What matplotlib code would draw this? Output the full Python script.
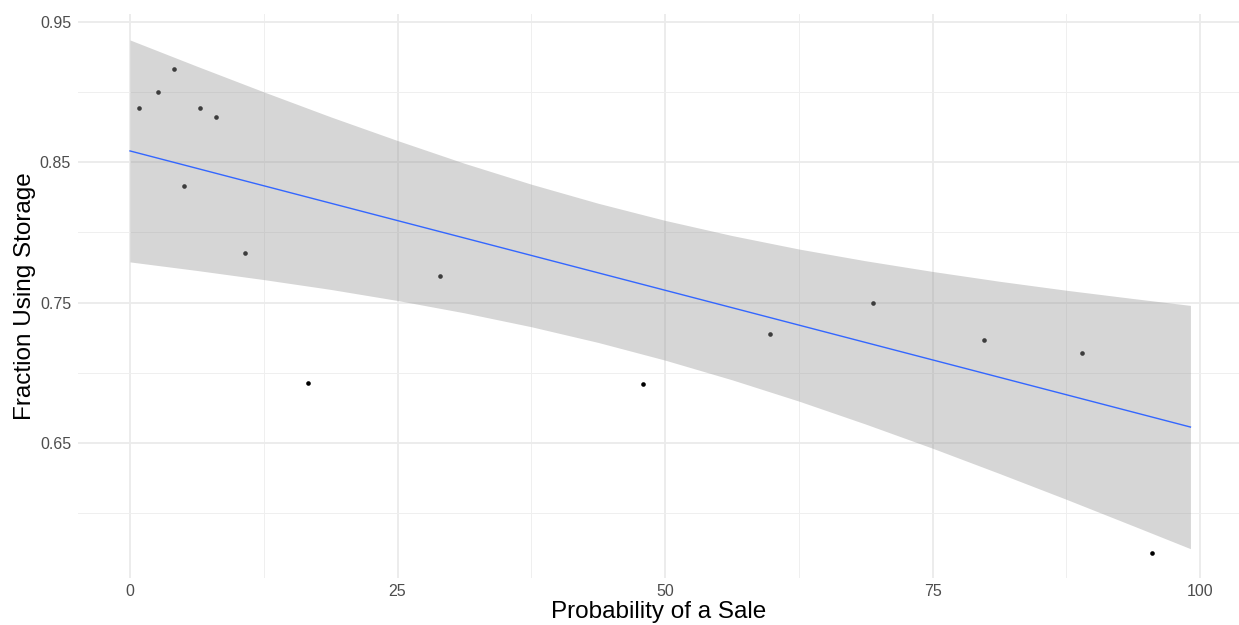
import matplotlib
matplotlib.use("Agg")
import matplotlib.pyplot as plt
from matplotlib.ticker import MultipleLocator

plt.rcParams['font.family'] = ['Liberation Sans', 'DejaVu Sans']

# observed points
sale_prob = [0.84, 2.64, 4.08, 5.07, 6.51, 8.07, 10.72, 16.64, 28.97,
             47.92, 59.79, 69.44, 79.81, 88.94, 95.49]
frac_storage = [0.8887, 0.8999, 0.9163, 0.8333, 0.8885, 0.8821, 0.7856, 0.6927,
                0.7692, 0.6922, 0.7273, 0.7499, 0.7233, 0.7143, 0.5717]

# fitted line (lm) and its confidence band
fit_x = [0.0, 99.1]
fit_y = [0.8581, 0.6613]
band_x = [0, 6.25, 12.5, 18.75, 25, 31.25, 37.5, 43.75, 50,
          56.25, 62.5, 68.75, 75, 81.25, 87.5, 93.75, 99.1]
band_hi = [0.9372, 0.9185, 0.9002, 0.8824, 0.8655, 0.8493, 0.8344, 0.8208, 0.8086,
           0.7978, 0.7882, 0.7798, 0.7722, 0.7652, 0.7588, 0.7529, 0.7480]
band_lo = [0.7790, 0.7729, 0.7664, 0.7594, 0.7515, 0.7427, 0.7328, 0.7216, 0.7090,
           0.6950, 0.6798, 0.6634, 0.6462, 0.6282, 0.6098, 0.5909, 0.5746]

x_ticks = [0, 25, 50, 75, 100]
y_ticks = [0.65, 0.75, 0.85, 0.95]

fig = plt.figure(figsize=(12.39, 6.25), dpi=100)
ax = fig.add_axes([78 / 1239, 1 - 578 / 625, (1239 - 78) / 1239, (578 - 14) / 625])

ax.scatter(sale_prob, frac_storage, s=11, color='black', linewidths=0, zorder=2)
ax.fill_between(band_x, band_lo, band_hi, color='#999999', alpha=0.4,
                linewidth=0, zorder=3)
ax.plot(fit_x, fit_y, color='#3366FF', lw=1.0, zorder=4)

ax.set_xlim(-4.86, 103.64)
ax.set_ylim(0.5537, 0.9557)
ax.set_xticks(x_ticks)
ax.set_yticks(y_ticks)
ax.set_yticklabels(['%.2f' % v for v in y_ticks])
ax.xaxis.set_minor_locator(MultipleLocator(12.5))
ax.yaxis.set_minor_locator(MultipleLocator(0.05))

ax.grid(which='major', color='#EBEBEB', lw=1.3, zorder=0)
ax.grid(which='minor', color='#EFEFEF', lw=0.7, zorder=0)
ax.set_axisbelow(True)
for s in ax.spines.values():
    s.set_visible(False)
ax.tick_params(which='both', length=0)
ax.tick_params(axis='x', labelsize=11.5, labelcolor='#4D4D4D', pad=4)
ax.tick_params(axis='y', labelsize=11.5, labelcolor='#4D4D4D', pad=5)

ax.set_xlabel('Probability of a Sale', fontsize=17.5, color='black', labelpad=2)
ax.set_ylabel('Fraction Using Storage', fontsize=17.5, color='black', labelpad=2.5)

fig.savefig('out.png', dpi=100)
